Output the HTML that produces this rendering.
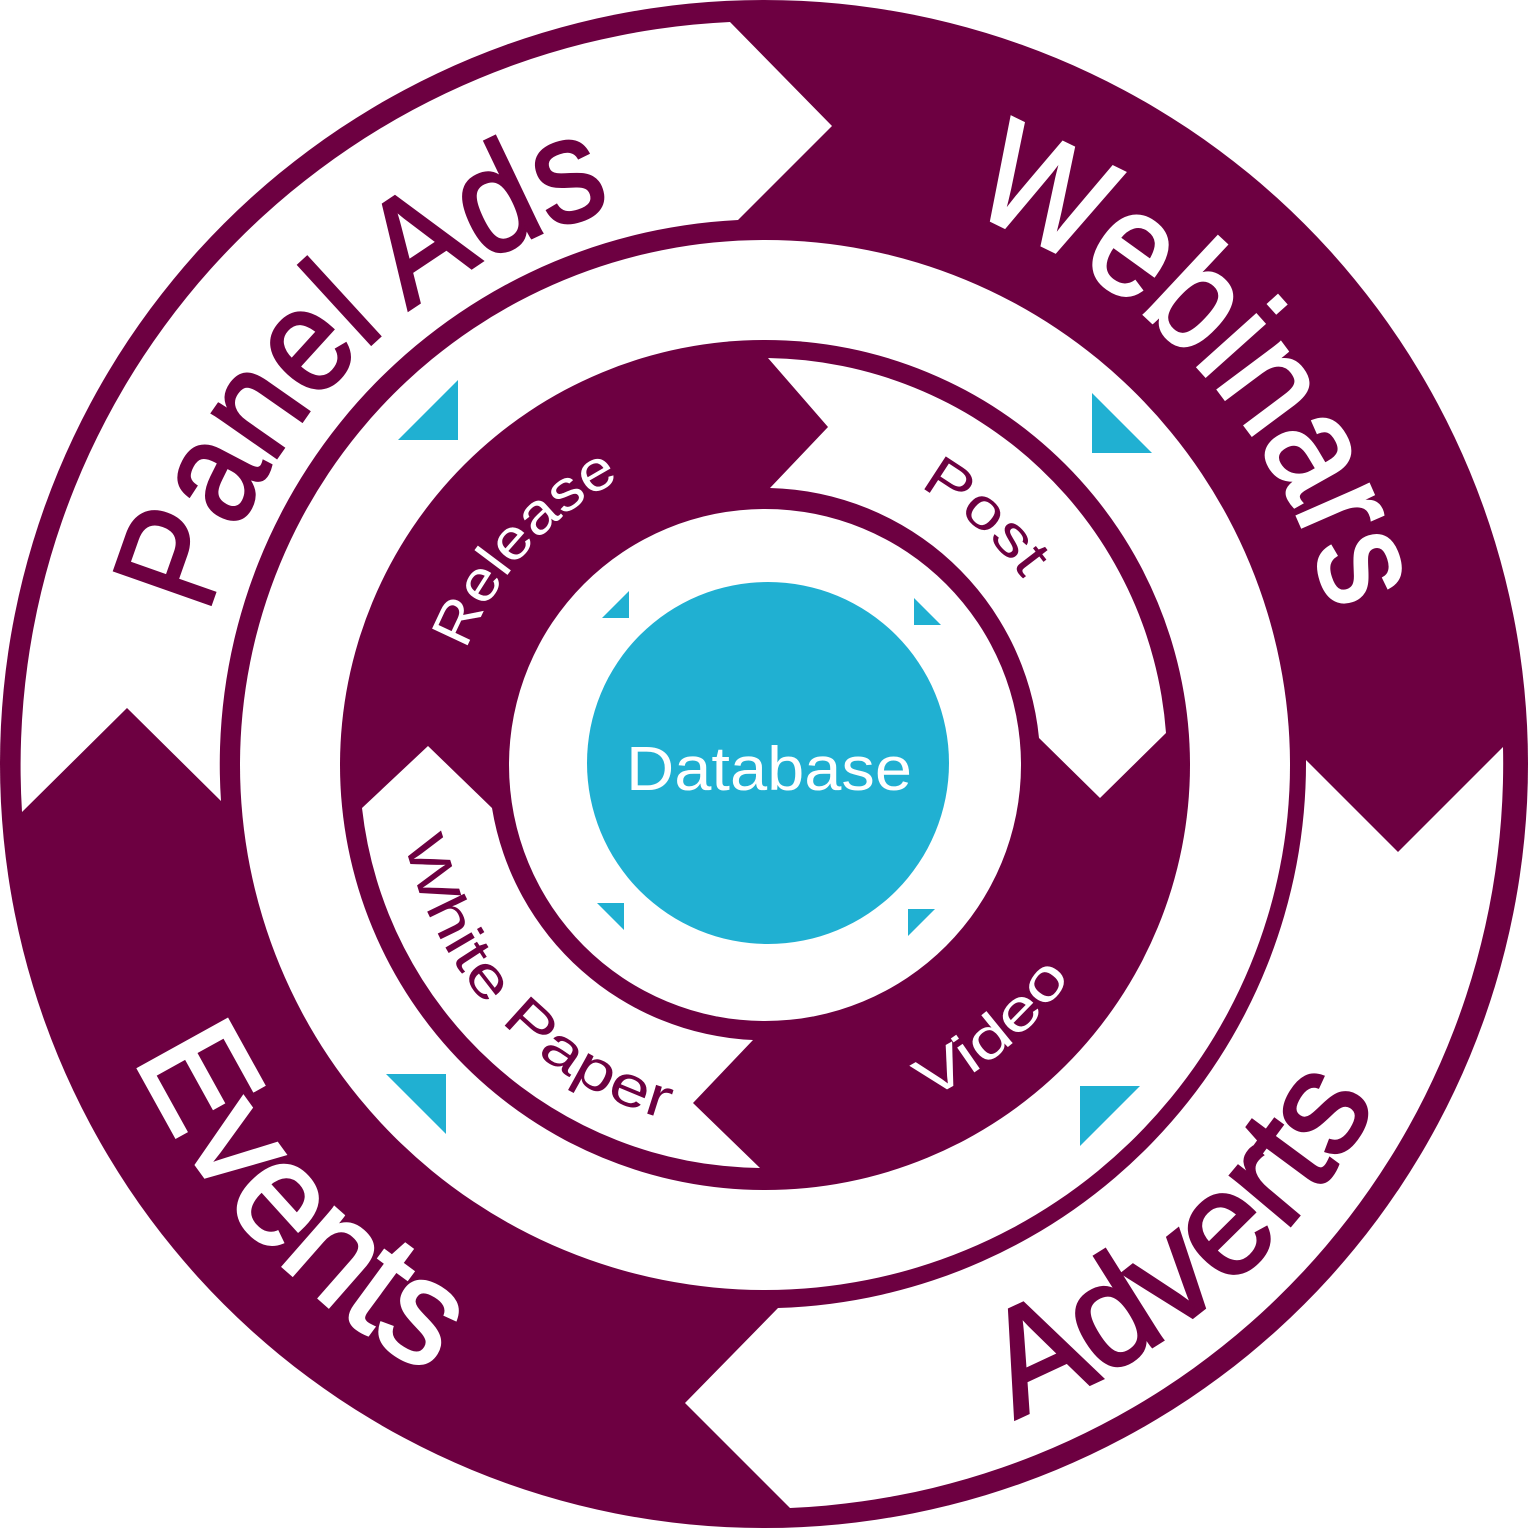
<!DOCTYPE html>
<html><head><meta charset="utf-8"><style>
html,body{margin:0;padding:0;background:#fff;}
svg{display:block;}
text{font-family:"Liberation Sans",sans-serif;}
</style></head><body>
<svg width="1528" height="1528" viewBox="0 0 1528 1528" xmlns="http://www.w3.org/2000/svg">
<defs>
<path id="pPanel" d="M 208.6 615.2 A 575 575 0 0 1 624.9 206.1"/>
<path id="pWeb" d="M 965.1 211.5 A 588 588 0 0 1 1334.5 621.8"/>
<path id="pAdv" d="M 1014.6 1417.5 A 700 700 0 0 0 1382.1 1092.6"/>
<path id="pEv" d="M 134.1 1057.7 A 695 695 0 0 0 437.7 1377.7"/>
<path id="pRel" d="M 466.2 650.3 A 320 320 0 0 1 634.9 472.6"/>
<path id="pPost" d="M 919.1 486.9 A 318 318 0 0 1 1031.8 591.8"/>
<path id="pVid" d="M 928.1 1099.3 A 372 372 0 0 0 1077 967.6"/>
<path id="pWP" d="M 405.1 841.5 A 368 368 0 0 0 676 1122"/>
</defs>
<circle cx="764" cy="764" r="764" fill="#6d0041"/>
<circle cx="765" cy="765" r="525" fill="#fff"/>
<circle cx="765" cy="765" r="425" fill="#6d0041"/>
<circle cx="765" cy="765" r="256" fill="#fff"/>
<path d="M 22 812 L 127 708 L 221 801 A 545 545 0 0 1 738 220 L 832 126 L 730 22 A 745 745 0 0 0 22 812 Z" fill="#fff"/>
<path d="M 1503 747 L 1398 852 L 1306 760 A 545 545 0 0 1 778 1308 L 685 1403 L 790 1508 A 745 745 0 0 0 1503 747 Z" fill="#fff"/>
<path d="M 768 358 L 828 427 L 770 488 A 277 277 0 0 1 1039 738 L 1100 798 L 1166 733 A 405 405 0 0 0 768 358 Z" fill="#fff"/>
<path d="M 760 1168 L 693 1103 L 753 1040 A 277 277 0 0 1 492 808 L 428 746 L 362 808 A 405 405 0 0 0 760 1168 Z" fill="#fff"/>
<circle cx="768" cy="763" r="181" fill="#20b0d2"/>
<g fill="#20b0d2">
<polygon points="398,440 458,380 458,440"/>
<polygon points="1092,393 1152,453 1092,453"/>
<polygon points="386,1074 446,1074 446,1134"/>
<polygon points="1080,1146 1080,1086 1140,1086"/>
<polygon points="602,618 629,591 629,618"/>
<polygon points="914,598 941,625 914,625"/>
<polygon points="597,903 624,903 624,930"/>
<polygon points="908,936 908,909 935,909"/>
</g>
<text font-size="148" fill="#6d0041" stroke="#6d0041" stroke-width="3"><textPath href="#pPanel" textLength="600" lengthAdjust="spacingAndGlyphs">Panel Ads</textPath></text>
<text font-size="148" fill="#fff" stroke="#fff" stroke-width="3"><textPath href="#pWeb" textLength="565" lengthAdjust="spacingAndGlyphs">Webinars</textPath></text>
<text font-size="148" fill="#6d0041" stroke="#6d0041" stroke-width="3"><textPath href="#pAdv" textLength="490" lengthAdjust="spacingAndGlyphs">Adverts</textPath></text>
<text font-size="148" fill="#fff" stroke="#fff" stroke-width="3"><textPath href="#pEv" textLength="440" lengthAdjust="spacingAndGlyphs">Events</textPath></text>
<text font-size="57" fill="#fff"><textPath href="#pRel" textLength="235" lengthAdjust="spacingAndGlyphs">Release</textPath></text>
<text font-size="57" fill="#6d0041"><textPath href="#pPost" textLength="140" lengthAdjust="spacingAndGlyphs">Post</textPath></text>
<text font-size="57" fill="#fff"><textPath href="#pVid" textLength="190" lengthAdjust="spacingAndGlyphs">Video</textPath></text>
<text font-size="57" fill="#6d0041"><textPath href="#pWP" textLength="400" lengthAdjust="spacingAndGlyphs">White Paper</textPath></text>
<text x="769" y="790" font-size="62" fill="#fff" text-anchor="middle" textLength="286" lengthAdjust="spacingAndGlyphs">Database</text>
</svg>
</body></html>
